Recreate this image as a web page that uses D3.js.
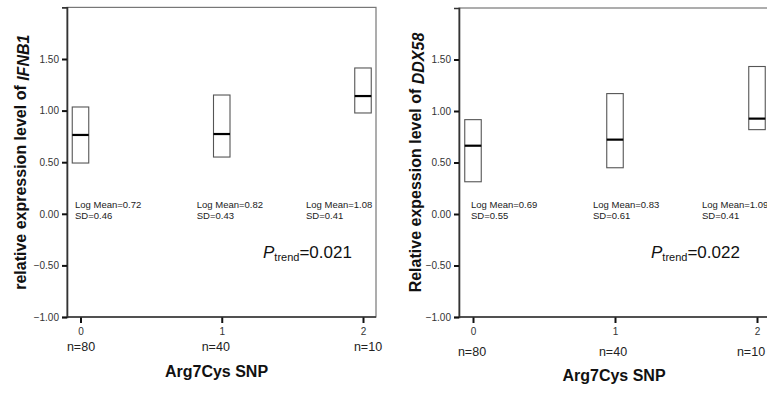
<!DOCTYPE html>
<html><head><meta charset="utf-8">
<script src="https://cdn.jsdelivr.net/npm/d3@7"></script>
<style>
html,body{margin:0;padding:0;background:#fff;}
svg{display:block;font-family:"Liberation Sans",Arial,Helvetica,sans-serif;}
</style></head>
<body>
<svg id="chart" width="767" height="393"></svg>
<script>
// ---- data ----
const categories = [0, 1, 2];
const nLabels = ["n=80", "n=40", "n=10"];
const yTicks = [-1, -0.5, 0, 0.5, 1, 1.5];
const yDomain = [-1, 2];

const ifnb1Upper  = [1.035, 1.151, 1.413];
const ifnb1Median = [0.764, 0.773, 1.141];
const ifnb1Lower  = [0.492, 0.550, 0.977];
const ifnb1LogMean = [0.72, 0.82, 1.08];
const ifnb1SD      = [0.46, 0.43, 0.41];

const ddx58Upper  = [0.916, 1.169, 1.432];
const ddx58Median = [0.663, 0.722, 0.926];
const ddx58Lower  = [0.313, 0.449, 0.819];
const ddx58LogMean = [0.69, 0.83, 1.09];
const ddx58SD      = [0.55, 0.61, 0.41];

const pTrend = ["0.021", "0.022"];
const xTitle = "Arg7Cys SNP";
const yTitles = [["relative expression level of ", "IFNB1"], ["Relative expession level of ", "DDX58"]];

// ---- layout ----
const panels = [
  { frame:{x0:67, x1:376, y0:7.4, y1:317}, xr:[80.5, 363], titleX:26,
    upper:ifnb1Upper, median:ifnb1Median, lower:ifnb1Lower, lm:ifnb1LogMean, sd:ifnb1SD,
    annDx:[-5.5,-25,-57], nDx:[0.5,-6,5], nY:350.5, xTitleX:216.5, xTitleY:377, pX:263, pY:258, p:pTrend[0], yt:yTitles[0] },
  { frame:{x0:459, x1:772, y0:8, y1:317}, xr:[473, 757], titleX:421,
    upper:ddx58Upper, median:ddx58Median, lower:ddx58Lower, lm:ddx58LogMean, sd:ddx58SD,
    annDx:[-2,-22,-55], nDx:[-1,-2,-6], nY:355.5, xTitleX:614, xTitleY:381, pX:651, pY:258, p:pTrend[1], yt:yTitles[1] }
];

const svg = d3.select("#chart");
const boxW = 16.5;

panels.forEach(P => {
  const f = P.frame;
  const y = d3.scaleLinear().domain(yDomain).range([f.y1, f.y0]);
  const x = d3.scalePoint().domain(categories).range(P.xr);
  const g = svg.append("g");

  // frame
  g.append("rect").attr("x", f.x0).attr("y", f.y0).attr("width", f.x1 - f.x0).attr("height", f.y1 - f.y0)
    .attr("fill", "none").attr("stroke", "#777").attr("stroke-width", 1.2);

  // y axis
  const yAxis = d3.axisLeft(y).tickValues(yTicks).tickFormat(d3.format(".2f")).tickSize(5).tickPadding(3);
  const ya = g.append("g").attr("transform", `translate(${f.x0},0)`).call(yAxis);
  ya.select(".domain").attr("stroke", "#333").attr("stroke-width", 1.6);
  ya.selectAll(".tick line").attr("stroke", "#111").attr("stroke-width", 2);
  ya.selectAll(".tick text").attr("font-size", 10).attr("fill", "#333")
    .attr("font-family", "Liberation Sans, Arial, sans-serif");

  // x axis
  const xAxis = d3.axisBottom(x).tickSize(6).tickPadding(5);
  const xa = g.append("g").attr("transform", `translate(0,${f.y1})`).call(xAxis);
  xa.select(".domain").remove();
  g.append("line").attr("x1", f.x0).attr("x2", f.x1).attr("y1", f.y1).attr("y2", f.y1)
    .attr("stroke", "#333").attr("stroke-width", 1.6);
  xa.selectAll(".tick line").attr("stroke", "#111").attr("stroke-width", 2);
  xa.selectAll(".tick text").attr("font-size", 10).attr("fill", "#333")
    .attr("font-family", "Liberation Sans, Arial, sans-serif");

  // boxes
  categories.forEach((c, i) => {
    const cx = x(c);
    g.append("rect").attr("x", cx - boxW / 2).attr("y", y(P.upper[i]))
      .attr("width", boxW).attr("height", y(P.lower[i]) - y(P.upper[i]))
      .attr("fill", "#fff").attr("stroke", "#555").attr("stroke-width", 1.1);
    g.append("line").attr("x1", cx - boxW / 2).attr("x2", cx + boxW / 2)
      .attr("y1", y(P.median[i])).attr("y2", y(P.median[i]))
      .attr("stroke", "#000").attr("stroke-width", 2.2);

    // annotations
    const ax = cx + P.annDx[i];
    g.append("text").attr("x", ax).attr("y", 207.5).attr("font-size", 9.5).attr("fill", "#222")
      .text("Log Mean=" + P.lm[i].toFixed(2));
    g.append("text").attr("x", ax).attr("y", 218.5).attr("font-size", 9.5).attr("fill", "#222")
      .text("SD=" + P.sd[i].toFixed(2));

    // n labels
    g.append("text").attr("x", cx + P.nDx[i]).attr("y", P.nY).attr("text-anchor", "middle")
      .attr("font-size", 12.5).attr("fill", "#222").text(nLabels[i]);
  });

  // x title
  g.append("text").attr("x", P.xTitleX).attr("y", P.xTitleY).attr("text-anchor", "middle")
    .attr("font-size", 16).attr("font-weight", "bold").attr("fill", "#111").text(xTitle);

  // y title
  const yt = g.append("text").attr("transform", `translate(${P.titleX},${(f.y0 + f.y1) / 2}) rotate(-90)`)
    .attr("text-anchor", "middle").attr("font-size", 16).attr("font-weight", "bold").attr("fill", "#111");
  yt.append("tspan").text(P.yt[0]);
  yt.append("tspan").attr("font-style", "italic").attr("dy", 2.5).text(P.yt[1]);

  // P trend
  const pt = g.append("text").attr("x", P.pX).attr("y", P.pY).attr("font-size", 17).attr("fill", "#111");
  pt.append("tspan").attr("font-style", "italic").text("P");
  pt.append("tspan").attr("font-size", 11).attr("dy", 3).text("trend");
  pt.append("tspan").attr("dy", -3).text("=" + P.p);
});
</script>
</body></html>
